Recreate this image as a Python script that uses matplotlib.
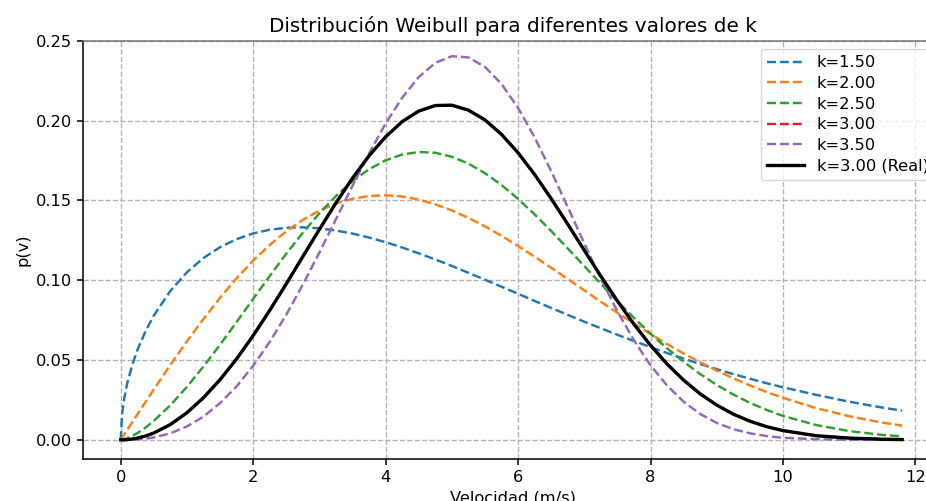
import matplotlib
matplotlib.use("Agg")
import matplotlib.pyplot as plt

# velocidad (m/s) y densidades Weibull leídas para cada k
v = [0, 0.02, 0.05, 0.1, 0.175, 0.25, 0.375, 0.5, 0.75, 1, 1.25, 1.5, 1.75, 2,
     2.25, 2.5, 2.75, 3, 3.25, 3.5, 3.75, 4, 4.25, 4.5, 4.75, 5, 5.25, 5.5, 5.75,
     6, 6.25, 6.5, 6.75, 7, 7.25, 7.5, 7.75, 8, 8.25, 8.5, 8.75, 9, 9.25, 9.5,
     9.75, 10, 10.5, 11, 11.5, 11.8]

p_k150 = [0, 0.0160, 0.0253, 0.0357, 0.0471, 0.0561, 0.0681, 0.0779, 0.0933,
          0.1050, 0.1139, 0.1207, 0.1257, 0.1293, 0.1316, 0.1328, 0.1331, 0.1325,
          0.1311, 0.1292, 0.1267, 0.1238, 0.1205, 0.1168, 0.1130, 0.1089, 0.1046,
          0.1003, 0.0959, 0.0915, 0.0870, 0.0826, 0.0783, 0.0740, 0.0699, 0.0658,
          0.0619, 0.0581, 0.0544, 0.0509, 0.0475, 0.0443, 0.0412, 0.0383, 0.0355,
          0.0329, 0.0282, 0.0239, 0.0202, 0.0183]
p_k200 = [0, 0.0013, 0.0032, 0.0064, 0.0112, 0.0159, 0.0238, 0.0316, 0.0470,
          0.0618, 0.0758, 0.0890, 0.1012, 0.1123, 0.1221, 0.1306, 0.1378, 0.1436,
          0.1480, 0.1510, 0.1527, 0.1532, 0.1524, 0.1505, 0.1475, 0.1437, 0.1390,
          0.1337, 0.1278, 0.1214, 0.1147, 0.1078, 0.1007, 0.0936, 0.0865, 0.0796,
          0.0728, 0.0663, 0.0600, 0.0541, 0.0486, 0.0434, 0.0385, 0.0341, 0.0300,
          0.0263, 0.0199, 0.0148, 0.0108, 0.0089]
p_k250 = [0, 0.0001, 0.0004, 0.0011, 0.0025, 0.0042, 0.0077, 0.0119, 0.0217,
          0.0332, 0.0460, 0.0596, 0.0738, 0.0883, 0.1026, 0.1166, 0.1297, 0.1419,
          0.1527, 0.1620, 0.1695, 0.1751, 0.1787, 0.1803, 0.1798, 0.1773, 0.1730,
          0.1670, 0.1596, 0.1509, 0.1412, 0.1308, 0.1199, 0.1088, 0.0977, 0.0868,
          0.0764, 0.0665, 0.0573, 0.0489, 0.0412, 0.0344, 0.0284, 0.0232, 0.0188,
          0.0150, 0.0093, 0.0055, 0.0031, 0.0022]
p_k300 = [0, 0.0000, 0.0000, 0.0002, 0.0005, 0.0011, 0.0024, 0.0043, 0.0096,
          0.0170, 0.0264, 0.0377, 0.0507, 0.0653, 0.0811, 0.0977, 0.1148, 0.1318,
          0.1484, 0.1639, 0.1779, 0.1898, 0.1993, 0.2059, 0.2094, 0.2096, 0.2065,
          0.2004, 0.1913, 0.1798, 0.1662, 0.1511, 0.1351, 0.1187, 0.1025, 0.0870,
          0.0724, 0.0592, 0.0475, 0.0374, 0.0288, 0.0218, 0.0161, 0.0117, 0.0083,
          0.0058, 0.0026, 0.0011, 0.0004, 0.0002]
p_k350 = [0, 0.0000, 0.0000, 0.0000, 0.0001, 0.0003, 0.0007, 0.0015, 0.0041,
          0.0084, 0.0146, 0.0230, 0.0335, 0.0464, 0.0614, 0.0784, 0.0972, 0.1173,
          0.1382, 0.1591, 0.1794, 0.1981, 0.2143, 0.2272, 0.2361, 0.2403, 0.2395,
          0.2336, 0.2229, 0.2079, 0.1894, 0.1683, 0.1458, 0.1230, 0.1009, 0.0805,
          0.0623, 0.0467, 0.0340, 0.0239, 0.0162, 0.0106, 0.0067, 0.0041, 0.0024,
          0.0013, 0.0004, 0.0001, 0.0000, 0.0000]

etiquetas = ["k=1.50", "k=2.00", "k=2.50", "k=3.00", "k=3.50"]
curvas = [p_k150, p_k200, p_k250, p_k300, p_k350]
colores = ["#1f77b4", "#ff7f0e", "#2ca02c", "#d62728", "#9467bd"]

fs = 11.7

fig = plt.figure(figsize=(9.26, 5.01), dpi=100)
ax = fig.add_axes([0.0896, 0.0838, 0.929, 0.835])

for p, lab, col in zip(curvas, etiquetas, colores):
    ax.plot(v, p, linestyle="--", color=col, linewidth=1.75, label=lab)
ax.plot(v, p_k300, color="black", linewidth=2.4, label="k=3.00 (Real)")

ax.set_xlim(-0.57, 12.42)
ax.set_ylim(-0.012, 0.25)
ax.set_xticks([0, 2, 4, 6, 8, 10, 12])
ax.set_yticks([0.00, 0.05, 0.10, 0.15, 0.20, 0.25])
ax.tick_params(labelsize=fs, width=1.1, length=4.5)
for s in ax.spines.values():
    s.set_linewidth(1.1)
ax.spines["top"].set_color("0.45")

ax.grid(True, linestyle="--", color="0.7", linewidth=1.0)
ax.set_title("Distribución Weibull para diferentes valores de k", fontsize=14.4)
ax.set_xlabel("Velocidad (m/s)", fontsize=fs)
ax.set_ylabel("p(v)", fontsize=fs)
ax.legend(loc="upper right", fontsize=fs, handlelength=2.25, labelspacing=0.35)

fig.savefig("out.png", dpi=100)
